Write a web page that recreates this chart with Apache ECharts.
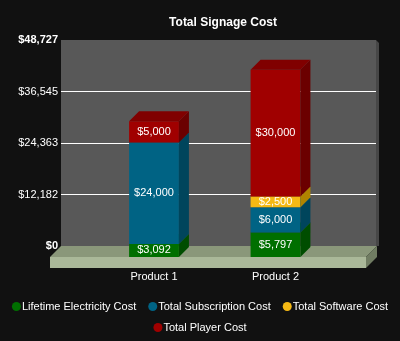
<!DOCTYPE html>
<html><head><meta charset="utf-8">
<script src="https://cdn.jsdelivr.net/npm/echarts@6/dist/echarts.min.js"></script>
<style>html,body{margin:0;padding:0;background:#111111;}#c{width:400px;height:341px;}</style>
</head><body><div id="c"></div>
<script>
const categories = ['Product 1', 'Product 2'];
const seriesNames = ['Lifetime Electricity Cost', 'Total Subscription Cost', 'Total Software Cost', 'Total Player Cost'];
const electricity = [3092, 5797];
const subscription = [24000, 6000];
const software = [0, 2500];
const player = [5000, 30000];
const yMax = 48727;
const yTickLabels = ['$0', '$12,182', '$24,363', '$36,545', '$48,727'];

const FONT = 'Arial, "Liberation Sans", sans-serif';
const palette = [
  { front: '#006f00', side: '#004d00', top: '#005800' },
  { front: '#006384', side: '#00455c', top: '#004f69' },
  { front: '#f5b914', side: '#b08400', top: '#c99a00' },
  { front: '#a00000', side: '#6b0000', top: '#800000' }
];
const allValues = [electricity, subscription, software, player];

function fmt(v) { return '$' + v.toLocaleString('en-US'); }

function makeRender(si) {
  const c = palette[si];
  return function (params, api) {
    const cat = api.value(0), base = api.value(1), top = api.value(2);
    if (top - base <= 0) return;
    const p0 = api.coord([cat, base]);
    const p1 = api.coord([cat, top]);
    const bw = api.size([1, 0])[0] * 0.41;
    const d = 10;
    const xl = p0[0] - bw / 2, xr = p0[0] + bw / 2;
    const yb = p0[1], yt = p1[1];
    return {
      type: 'group',
      children: [
        { type: 'rect', shape: { x: xl, y: yt, width: bw, height: yb - yt }, style: { fill: c.front } },
        { type: 'polygon', shape: { points: [[xr, yb], [xr, yt], [xr + d, yt - d], [xr + d, yb - d]] }, style: { fill: c.side } },
        { type: 'polygon', shape: { points: [[xl, yt], [xl + d, yt - d], [xr + d, yt - d], [xr, yt]] }, style: { fill: c.top } },
        { type: 'text', style: { text: fmt(top - base), x: p0[0], y: (yt + yb) / 2, align: 'center', verticalAlign: 'middle', fill: '#ffffff', font: '11px ' + FONT } }
      ]
    };
  };
}

const cum = [0, 0];
const series = allValues.map(function (vals, si) {
  const data = vals.map(function (v, i) {
    const b = cum[i];
    cum[i] += v;
    return [i, b, b + v];
  });
  return {
    type: 'custom',
    name: seriesNames[si],
    xAxisIndex: 1, yAxisIndex: 1,
    itemStyle: { color: palette[si].front },
    renderItem: makeRender(si),
    data: data,
    z: 5
  };
});

const legendBase = {
  icon: 'circle', itemWidth: 9, itemHeight: 9, itemGap: 12, left: 'center',
  textStyle: { color: '#ffffff', fontSize: 11, fontFamily: FONT, padding: [0, 0, 0, -4] }
};

const chart = echarts.init(document.getElementById('c'), null, { renderer: 'canvas' });
chart.setOption({
  backgroundColor: '#111111',
  animation: false,
  title: {
    text: 'Total Signage Cost', left: 218, top: 12, textAlign: 'center',
    textStyle: { color: '#ffffff', fontSize: 12, fontWeight: 'bold', fontFamily: FONT }
  },
  legend: [
    Object.assign({}, legendBase, { data: seriesNames.slice(0, 3), top: 296 }),
    Object.assign({}, legendBase, { data: seriesNames.slice(3), top: 317 })
  ],
  grid: [
    { left: 61, top: 40, width: 315, height: 206, show: true, backgroundColor: '#585858', borderWidth: 0 },
    { left: 93.25, top: 51, width: 243, height: 206 }
  ],
  xAxis: [
    { gridIndex: 0, type: 'value', show: false },
    {
      gridIndex: 1, type: 'category', data: categories,
      axisLine: { show: false }, axisTick: { show: false },
      axisLabel: { color: '#ffffff', fontSize: 11, fontFamily: FONT, margin: 14 }
    }
  ],
  yAxis: [
    {
      gridIndex: 0, type: 'value', min: 0, max: yMax, interval: yMax / 4,
      axisLine: { show: false }, axisTick: { show: false },
      axisLabel: {
        margin: 3, color: '#ffffff', fontSize: 11, fontFamily: FONT,
        formatter: function (v, idx) {
          const t = yTickLabels[idx];
          return (idx === 0 || idx === yTickLabels.length - 1) ? '{b|' + t + '}' : t;
        },
        rich: { b: { fontWeight: 'bold', fontSize: 11, color: '#ffffff', fontFamily: FONT } }
      },
      splitLine: { show: true, lineStyle: { width: 1, color: ['rgba(0,0,0,0)', '#ffffff', '#ffffff', '#ffffff', 'rgba(0,0,0,0)'] } }
    },
    { gridIndex: 1, type: 'value', min: 0, max: yMax, show: false }
  ],
  graphic: [
    { type: 'polygon', z: 1, shape: { points: [[376, 40], [379, 43], [379, 246], [376, 246]] }, style: { fill: '#474747' } },
    { type: 'polygon', z: 1, shape: { points: [[50, 257], [61, 246], [377, 246], [366, 257]] }, style: { fill: '#8a977a' } },
    { type: 'rect', z: 1, shape: { x: 50, y: 257, width: 316, height: 11 }, style: { fill: '#aab899' } },
    { type: 'polygon', z: 1, shape: { points: [[366, 257], [377, 246], [377, 257], [366, 268]] }, style: { fill: '#707c62' } }
  ],
  series: series
});
</script>
</body></html>
